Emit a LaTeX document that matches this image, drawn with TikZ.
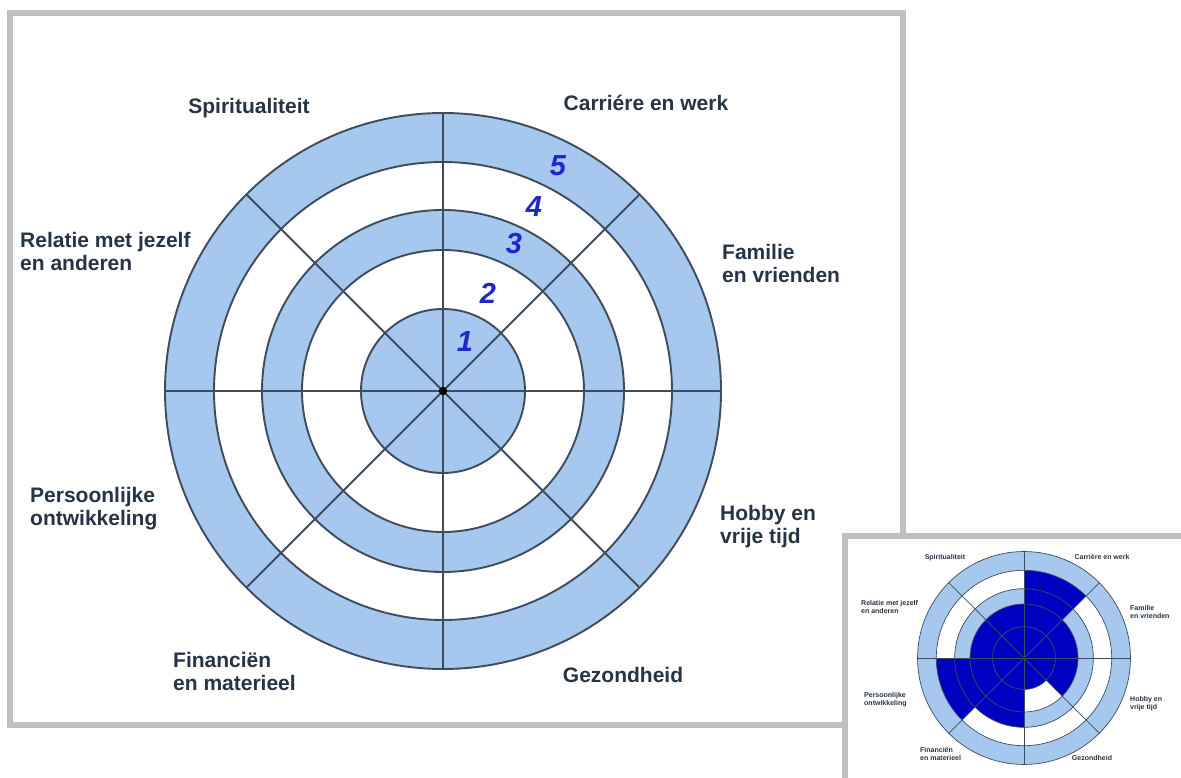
\documentclass[tikz,border=0pt]{standalone}
\usepackage{fontspec}
\setmainfont{Liberation Sans}
\usetikzlibrary{calc}
\definecolor{ringblue}{RGB}{166,199,238}
\definecolor{scoreblue}{RGB}{0,0,192}
\definecolor{wheelline}{RGB}{62,76,92}
\definecolor{labeltext}{RGB}{38,52,68}
\definecolor{framegray}{RGB}{192,192,192}
\definecolor{digitblue}{RGB}{30,40,200}
\tikzset{
  boxframe/.style={draw=framegray,line width=6},
  biglabel/.style={text=labeltext,inner sep=0,align=left,font=\fontsize{21}{23}\selectfont\bfseries},
  smalllabel/.style={text=labeltext,inner sep=0,align=left,font=\fontsize{7}{7.8}\selectfont\bfseries},
  digit/.style={text=digitblue,inner sep=0,font=\fontsize{29}{29}\selectfont\bfseries\itshape}
}
\newcommand{\wheelrings}{
  \fill[ringblue] (0,0) circle (278);
  \fill[white] (0,0) circle (229);
  \fill[ringblue] (0,0) circle (181);
  \fill[white] (0,0) circle (141);
  \fill[ringblue] (0,0) circle (82);
}
\newcommand{\wheellines}[1]{
  \foreach \r in {278,229,181,141,82}
    \draw[wheelline,line width=#1] (0,0) circle (\r);
  \foreach \a in {0,45,...,315}
    \draw[wheelline,line width=#1] (0,0) -- (\a:278);
  \fill[black] (0,0) circle (2.2*#1);
}

\begin{document}
\begin{tikzpicture}[x=1pt,y=1pt]
\useasboundingbox (0,0) rectangle (1181,777);
\fill[white] (0,0) rectangle (1181,777);

% main wheel
\draw[boxframe] (10,52) rectangle (903,764);
\begin{scope}[shift={(443,386)}]
  \coordinate (hub) at (0,0);
  \wheelrings
  \wheellines{1.9}
\end{scope}

\node[digit] (n5) at (558,611) {5};
\node[digit] (n4) at (534,570) {4};
\node[digit] (n3) at (514,533) {3};
\node[digit] (n2) at (488,484) {2};
\node[digit] (n1) at (465,435) {1};

\node[biglabel] (spirit) at (249,669) {Spiritualiteit};
\node[biglabel] (career) at (646,674) {Carriére en werk};
\node[biglabel,anchor=west] (relation) at (20,526) {Relatie met jezelf\\en anderen};
\node[biglabel,anchor=west] (family) at (722,514) {Familie\\en vrienden};
\node[biglabel,anchor=west] (growth) at (30,268) {Persoonlijke\\ontwikkeling};
\node[biglabel,anchor=west] (hobby) at (720,250) {Hobby en\\vrije tijd};
\node[biglabel,anchor=west] (money) at (173,106) {Financiën\\en materieel};
\node[biglabel] (health) at (623,102) {Gezondheid};

% filled-in example
\fill[white] (845,0) rectangle (1181,241);
\draw[boxframe] (845,-5) |- (1190,241);
\begin{scope}[shift={(1024,119)},scale=0.383]
  \coordinate (minihub) at (0,0);
  \wheelrings
  \foreach \a/\lvl in {45/229,0/141,-45/141,-90/82,-135/181,180/229,135/141,90/141}
    \fill[scoreblue] (0,0) -- (\a:\lvl) arc[start angle=\a,end angle=\a+45,radius=\lvl] -- cycle;
  \wheellines{0.7}
\end{scope}

\node[smalllabel] (spiritS) at (945,219) {Spiritualiteit};
\node[smalllabel] (careerS) at (1102,220) {Carrière en werk};
\node[smalllabel,anchor=west] (relationS) at (861,170) {Relatie met jezelf\\en anderen};
\node[smalllabel,anchor=west] (familyS) at (1130,165) {Familie\\en vrienden};
\node[smalllabel,anchor=west] (growthS) at (864,77) {Persoonlijke\\ontwikkeling};
\node[smalllabel,anchor=west] (hobbyS) at (1130,73) {Hobby en\\vrije tijd};
\node[smalllabel,anchor=west] (moneyS) at (920,23) {Financiën\\en materieel};
\node[smalllabel] (healthS) at (1092,19) {Gezondheid};
\end{tikzpicture}
\end{document}
